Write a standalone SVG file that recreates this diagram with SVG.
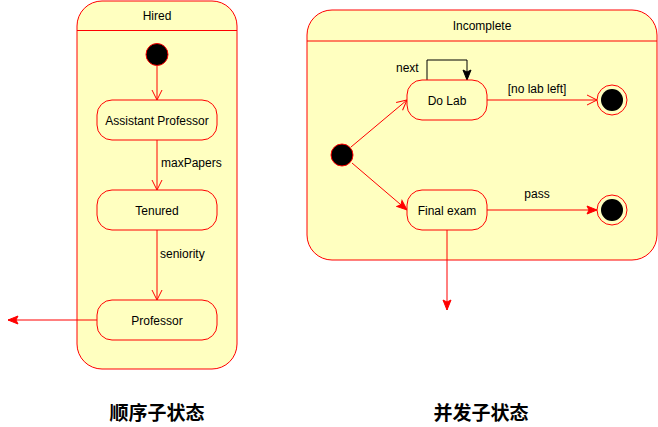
<svg xmlns="http://www.w3.org/2000/svg" width="658" height="427" viewBox="0 0 658 427">
<style>
.st{fill:#FFFFC0;stroke:#FF0000;stroke-width:1}
.t{font-family:"Liberation Sans",Arial,sans-serif;font-size:12px;fill:#000}
.c{text-anchor:middle}
.e{fill:none;stroke:#FF0000;stroke-width:1}
.cn{font-family:"Noto Sans CJK SC","Noto Sans",sans-serif;font-size:19px;font-weight:bold;fill:#000;text-anchor:middle}
</style>
<defs>
<marker id="open" viewBox="0 0 12 12" refX="11" refY="6" markerWidth="12" markerHeight="12" markerUnits="userSpaceOnUse" orient="auto">
<path d="M1,1 L11,6 L1,11" fill="none" stroke="#FF0000" stroke-width="1"/>
</marker>
<marker id="block" viewBox="0 0 12 12" refX="11" refY="6" markerWidth="12" markerHeight="12" markerUnits="userSpaceOnUse" orient="auto">
<path d="M1,2 L11,6 L1,10 L3,6 Z" fill="#FF0000" stroke="#FF0000" stroke-width="1"/>
</marker>
<marker id="blockK" viewBox="0 0 12 12" refX="11" refY="6" markerWidth="12" markerHeight="12" markerUnits="userSpaceOnUse" orient="auto">
<path d="M1,2 L11,6 L1,10 L3,6 Z" fill="#000" stroke="#000" stroke-width="1"/>
</marker>
</defs>

<g id="hired">
<rect class="st" x="77" y="1" width="160" height="368" rx="25" ry="25"/>
<line x1="77" y1="30.5" x2="237" y2="30.5" stroke="#FF0000"/>
<text class="t c" x="157" y="20">Hired</text>
</g>
<g id="incomplete">
<rect class="st" x="307" y="10" width="350" height="250" rx="25" ry="25"/>
<line x1="307" y1="41" x2="657" y2="41" stroke="#FF0000"/>
<text class="t c" x="482" y="30">Incomplete</text>
</g>

<g id="connectors">
<line class="e" x1="157" y1="66" x2="157" y2="100" marker-end="url(#open)"/>
<line class="e" x1="157" y1="140" x2="157" y2="190" marker-end="url(#open)"/>
<line class="e" x1="157" y1="230" x2="157" y2="300" marker-end="url(#open)"/>
<line class="e" x1="97" y1="320" x2="8" y2="320" marker-end="url(#block)"/>
<line class="e" x1="351" y1="147" x2="407" y2="100" marker-end="url(#open)"/>
<line class="e" x1="352" y1="163" x2="407" y2="210" marker-end="url(#block)"/>
<line class="e" x1="487" y1="100" x2="597" y2="100" marker-end="url(#open)"/>
<line class="e" x1="487" y1="210" x2="597" y2="210" marker-end="url(#block)"/>
<line class="e" x1="447" y1="230" x2="447" y2="310" marker-end="url(#block)"/>
<path d="M427,80 L427,60 L467,60 L467,80" fill="none" stroke="#000" stroke-width="1" marker-end="url(#blockK)"/>
<text class="t" x="161" y="167">maxPapers</text>
<text class="t" x="160" y="258">seniority</text>
<text class="t" x="396" y="72">next</text>
<text class="t c" x="537" y="93">[no lab left]</text>
<text class="t c" x="537" y="198">pass</text>
</g>

<g id="init1"><circle cx="157" cy="54.5" r="11" fill="#000" stroke="#FF0000"/></g>
<g id="assistant"><rect class="st" x="97" y="100" width="120" height="40" rx="15" ry="15"/><text class="t c" x="157" y="124.5">Assistant Professor</text></g>
<g id="tenured"><rect class="st" x="97" y="190" width="120" height="40" rx="15" ry="15"/><text class="t c" x="157" y="214.5">Tenured</text></g>
<g id="professor"><rect class="st" x="97" y="300" width="120" height="40" rx="15" ry="15"/><text class="t c" x="157" y="324.5">Professor</text></g>

<g id="init2"><circle cx="342" cy="155" r="11" fill="#000" stroke="#FF0000"/></g>
<g id="dolab"><rect class="st" x="407" y="80" width="80" height="40" rx="15" ry="15"/><text class="t c" x="447" y="104.5">Do Lab</text></g>
<g id="final"><rect class="st" x="407" y="190" width="80" height="40" rx="15" ry="15"/><text class="t c" x="447" y="214.5">Final exam</text></g>
<g id="end1"><circle cx="612" cy="100" r="15" fill="#FFFFC0" stroke="#FF0000"/><circle cx="612" cy="100" r="11" fill="#000"/></g>
<g id="end2"><circle cx="612" cy="210" r="15" fill="#FFFFC0" stroke="#FF0000"/><circle cx="612" cy="210" r="11" fill="#000"/></g>

<text class="cn" x="157" y="420">顺序子状态</text>
<text class="cn" x="481" y="420">并发子状态</text>
</svg>
